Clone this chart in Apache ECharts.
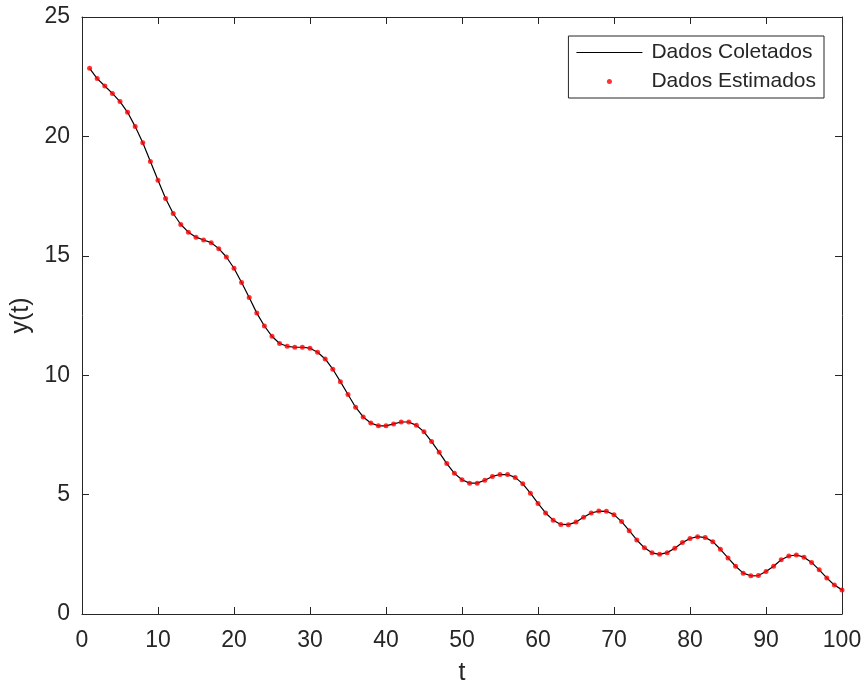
<!DOCTYPE html>
<html>
<head>
<meta charset="utf-8">
<title>y(t)</title>
<script src="https://cdn.jsdelivr.net/npm/echarts@6/dist/echarts.min.js"></script>
<style>
  html, body { margin: 0; padding: 0; background: #ffffff; }
  #chart { width: 866px; height: 691px; }
</style>
</head>
<body>
<div id="chart"></div>
<script>
// Sample instants t = 1 .. 100
const tempo = [
  1, 2, 3, 4, 5, 6, 7, 8, 9, 10,
  11, 12, 13, 14, 15, 16, 17, 18, 19, 20,
  21, 22, 23, 24, 25, 26, 27, 28, 29, 30,
  31, 32, 33, 34, 35, 36, 37, 38, 39, 40,
  41, 42, 43, 44, 45, 46, 47, 48, 49, 50,
  51, 52, 53, 54, 55, 56, 57, 58, 59, 60,
  61, 62, 63, 64, 65, 66, 67, 68, 69, 70,
  71, 72, 73, 74, 75, 76, 77, 78, 79, 80,
  81, 82, 83, 84, 85, 86, 87, 88, 89, 90,
  91, 92, 93, 94, 95, 96, 97, 98, 99, 100
];

// Measured output y(t)
const dadosColetados = [
  22.85, 22.42, 22.11, 21.80, 21.46, 21.01, 20.41, 19.73, 18.95, 18.16,
  17.40, 16.77, 16.31, 15.99, 15.78, 15.66, 15.55, 15.30, 14.95, 14.48,
  13.88, 13.25, 12.60, 12.06, 11.63, 11.33, 11.21, 11.17, 11.17, 11.13,
  10.96, 10.68, 10.25, 9.73, 9.19, 8.66, 8.25, 8.00, 7.88, 7.88,
  7.96, 8.04, 8.04, 7.90, 7.63, 7.22, 6.77, 6.30, 5.89, 5.62,
  5.48, 5.48, 5.60, 5.76, 5.84, 5.84, 5.72, 5.45, 5.06, 4.63,
  4.23, 3.93, 3.75, 3.74, 3.85, 4.05, 4.23, 4.31, 4.30, 4.16,
  3.87, 3.49, 3.10, 2.77, 2.56, 2.50, 2.57, 2.75, 2.99, 3.16,
  3.24, 3.20, 3.03, 2.71, 2.35, 2.00, 1.71, 1.60, 1.61, 1.78,
  2.00, 2.27, 2.43, 2.47, 2.38, 2.16, 1.85, 1.51, 1.21, 1.01
];

// Model output (coincides with the measured curve)
const dadosEstimados = [
  22.85, 22.42, 22.11, 21.80, 21.46, 21.01, 20.41, 19.73, 18.95, 18.16,
  17.40, 16.77, 16.31, 15.99, 15.78, 15.66, 15.55, 15.30, 14.95, 14.48,
  13.88, 13.25, 12.60, 12.06, 11.63, 11.33, 11.21, 11.17, 11.17, 11.13,
  10.96, 10.68, 10.25, 9.73, 9.19, 8.66, 8.25, 8.00, 7.88, 7.88,
  7.96, 8.04, 8.04, 7.90, 7.63, 7.22, 6.77, 6.30, 5.89, 5.62,
  5.48, 5.48, 5.60, 5.76, 5.84, 5.84, 5.72, 5.45, 5.06, 4.63,
  4.23, 3.93, 3.75, 3.74, 3.85, 4.05, 4.23, 4.31, 4.30, 4.16,
  3.87, 3.49, 3.10, 2.77, 2.56, 2.50, 2.57, 2.75, 2.99, 3.16,
  3.24, 3.20, 3.03, 2.71, 2.35, 2.00, 1.71, 1.60, 1.61, 1.78,
  2.00, 2.27, 2.43, 2.47, 2.38, 2.16, 1.85, 1.51, 1.21, 1.01
];

const nomesSeries = ['Dados Coletados', 'Dados Estimados'];
const eixoX = { min: 0, max: 100, passo: 10, titulo: 't' };
const eixoY = { min: 0, max: 25, passo: 5, titulo: 'y(t)' };

const FONTE = "'Liberation Sans', Arial, Helvetica, sans-serif";
const COR_EIXO = '#262626';

function pares(xs, ys) {
  return xs.map((x, i) => [x, ys[i]]);
}

const linhaEixo = { show: true, onZero: false, lineStyle: { color: COR_EIXO, width: 1 } };
const tickDentro = { show: true, inside: true, length: 7, lineStyle: { color: COR_EIXO, width: 1 } };

const chart = echarts.init(document.getElementById('chart'), null, { renderer: 'canvas' });

chart.setOption({
  animation: false,
  backgroundColor: '#ffffff',
  grid: { left: 82, right: 24, top: 17, bottom: 74, containLabel: false },
  legend: {
    orient: 'vertical',
    right: 42,
    top: 36,
    padding: [6, 8, 6, 8],
    itemGap: 8,
    itemWidth: 66,
    itemHeight: 5,
    borderColor: COR_EIXO,
    borderWidth: 1,
    backgroundColor: '#ffffff',
    textStyle: { fontFamily: FONTE, fontSize: 21, color: COR_EIXO, lineHeight: 21, padding: [0, 0, 0, 4] },
    data: [
      // thin horizontal bar standing in for the solid line
      { name: nomesSeries[0], icon: 'path://M0,0H66V1H0Z', itemStyle: { color: '#000000' } },
      { name: nomesSeries[1], icon: 'circle', itemStyle: { color: '#ff0000' } }
    ]
  },
  xAxis: [
    {
      type: 'value', position: 'bottom',
      min: eixoX.min, max: eixoX.max, interval: eixoX.passo,
      name: eixoX.titulo, nameLocation: 'middle', nameGap: 47,
      nameTextStyle: { fontFamily: FONTE, fontSize: 25, color: COR_EIXO },
      axisLine: linhaEixo, axisTick: tickDentro,
      axisLabel: { fontFamily: FONTE, fontSize: 23, color: COR_EIXO, margin: 15 },
      splitLine: { show: false }
    },
    {
      type: 'value', position: 'top',
      min: eixoX.min, max: eixoX.max, interval: eixoX.passo,
      axisLine: linhaEixo, axisTick: tickDentro,
      axisLabel: { show: false }, splitLine: { show: false }
    }
  ],
  yAxis: [
    {
      type: 'value', position: 'left',
      min: eixoY.min, max: eixoY.max, interval: eixoY.passo,
      name: eixoY.titulo, nameLocation: 'middle', nameGap: 45,
      nameTextStyle: { fontFamily: FONTE, fontSize: 25, color: COR_EIXO },
      axisLine: linhaEixo, axisTick: tickDentro,
      axisLabel: { fontFamily: FONTE, fontSize: 23, color: COR_EIXO, margin: 12 },
      splitLine: { show: false }
    },
    {
      type: 'value', position: 'right',
      min: eixoY.min, max: eixoY.max, interval: eixoY.passo,
      axisLine: linhaEixo, axisTick: tickDentro,
      axisLabel: { show: false }, splitLine: { show: false }
    }
  ],
  series: [
    {
      name: nomesSeries[0],
      type: 'line',
      xAxisIndex: 0, yAxisIndex: 0,
      data: pares(tempo, dadosColetados),
      symbol: 'none',
      smooth: false,
      lineStyle: { color: '#000000', width: 1.2 },
      itemStyle: { color: '#000000' },
      z: 2
    },
    {
      name: nomesSeries[1],
      type: 'scatter',
      xAxisIndex: 0, yAxisIndex: 0,
      data: pares(tempo, dadosEstimados),
      symbol: 'circle',
      symbolSize: 5,
      itemStyle: { color: '#ff0000' },
      z: 3
    }
  ]
});
</script>
</body>
</html>
